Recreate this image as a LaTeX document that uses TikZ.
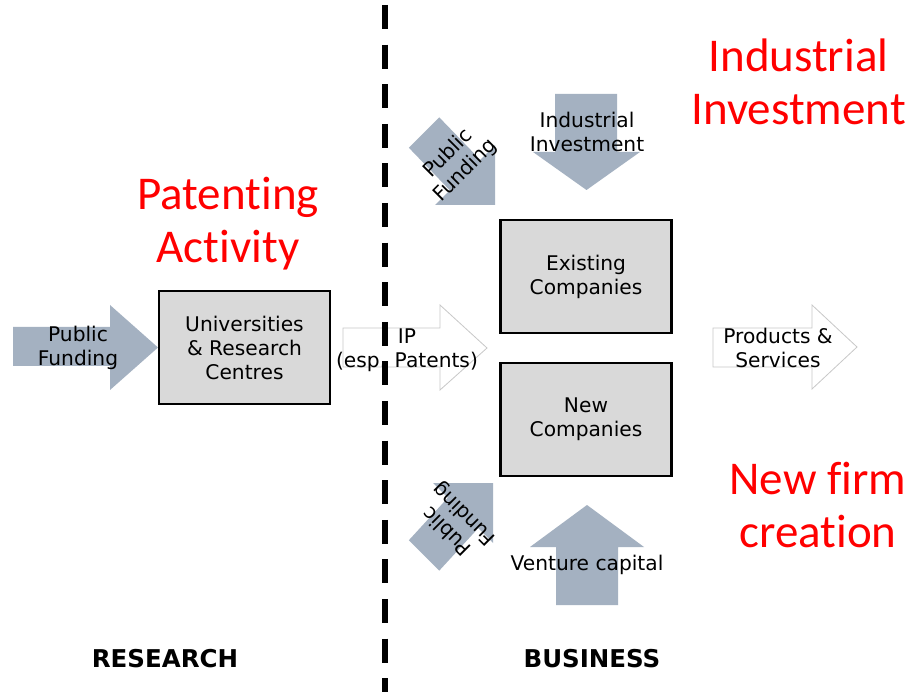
\documentclass[tikz,border=0pt]{standalone}
\usepackage{fontspec}
\setmainfont{DejaVu Sans}
\newfontfamily\redfont[Ligatures=NoCommon]{Carlito}
\definecolor{arrowblue}{RGB}{164,177,193}
\definecolor{boxgray}{RGB}{217,217,217}
\definecolor{outlinegray}{RGB}{200,200,200}
\begin{document}
\begin{tikzpicture}[x=1pt,y=-1pt,
  lbl/.style={font=\fontsize{20.2}{24}\selectfont, align=center, inner sep=0pt},
  redlbl/.style={font=\redfont\fontsize{47}{53}\selectfont, text=red, align=center, inner sep=0pt},
  hdr/.style={font=\bfseries\fontsize{24.5}{29}\selectfont, inner sep=0pt},
  firmbox/.style={draw=black, line width=2.4pt, fill=boxgray, minimum width=171pt, minimum height=113pt, inner sep=0pt, font=\fontsize{20.2}{24}\selectfont, align=center},
  garrow/.style={fill=arrowblue, draw=none},
  warrow/.style={fill=white, draw=outlinegray, line width=0.8pt},
  divider/.style={line width=5.5pt, dash pattern=on 24pt off 15.6pt}]
\useasboundingbox (0,0) rectangle (913,692);
\fill[white] (0,0) rectangle (913,692);

% grey arrows
\fill[garrow] (13,327) -- (110,327) -- (110,305) -- (158,347.5) -- (110,390) -- (110,366) -- (13,366) -- cycle;
\fill[garrow] (555,94) -- (617,94) -- (617,152) -- (640,152) -- (586.5,190) -- (533,152) -- (555,152) -- cycle;
\fill[garrow] (556,605) -- (618,605) -- (618,547) -- (644,547) -- (587,505) -- (530,547) -- (556,547) -- cycle;
\fill[garrow] (408.8,147.7) -- (439.2,117.3) -- (480.2,159.8) -- (495,145) -- (495,205) -- (435,205) -- (449.8,190.2) -- cycle;
\fill[garrow] (408.8,540.3) -- (439.2,570.7) -- (478.2,528.2) -- (493,543) -- (493,483) -- (433,483) -- (447.8,497.8) -- cycle;

% white arrows
\filldraw[warrow] (343,328) -- (440,328) -- (440,305) -- (487,348) -- (440,390) -- (440,367) -- (343,367) -- cycle;
\filldraw[warrow] (713,328) -- (812,328) -- (812,305) -- (857,347) -- (812,389) -- (812,367) -- (713,367) -- cycle;

% boxes
\node[firmbox] (univ) at (244.5,347.5) {Universities\\\& Research\\Centres};
\node[firmbox] (exist) at (586,276.5) {Existing\\Companies};
\node[firmbox] (new) at (586,419.5) {New\\Companies};

% arrow labels
\node[lbl] (pfleft) at (78,348) {Public\\Funding};
\node[lbl] (ip) at (407,350) {IP\\(esp. Patents)};
\node[lbl] (prod) at (778,348) {Products \&\\Services};
\node[lbl] (indinv) at (587,132) {Industrial\\Investment};
\node[lbl] (vc) at (587,565) {Venture capital};
\node[lbl, rotate=45] (pftop) at (457,162) {Public\\Funding};
\node[lbl, rotate=135] (pfbot) at (456,522) {Public\\Funding};

% dashed divider
\coordinate (dtop) at (385,5);
\coordinate (dbot) at (385,692);
\draw[divider] (dtop) -- (dbot);

% red annotations
\node[redlbl] (patent) at (228,224) {Patenting\\Activity};
\node[redlbl] (indred) at (798.5,82) {Industrial\\Investment};
\node[redlbl] (newfirm) at (818,505) {New firm\\creation};

% headers
\node[hdr] (research) at (165,659) {RESEARCH};
\node[hdr] (business) at (592,659) {BUSINESS};
\end{tikzpicture}
\end{document}
